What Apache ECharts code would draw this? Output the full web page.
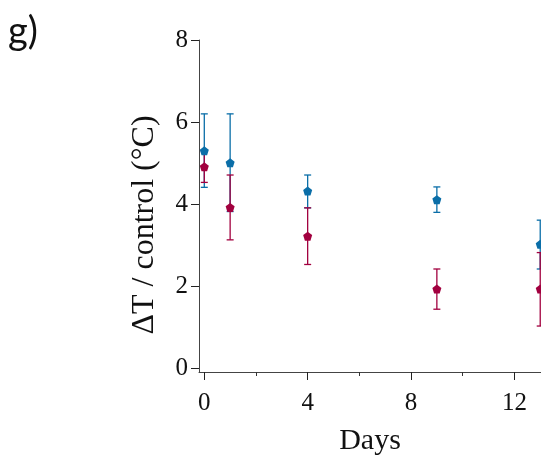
<!DOCTYPE html>
<html>
<head>
<meta charset="utf-8">
<script src="https://cdn.jsdelivr.net/npm/echarts@6/dist/echarts.min.js"></script>
<style>html,body{margin:0;padding:0;background:#fff}#c{width:541px;height:458px}</style>
</head>
<body>
<div id="c"></div>
<script>
var days = [0, 1, 4, 9, 13];
var blueMean = [5.30, 5.01, 4.32, 4.11, 3.02];
var blueLow  = [4.41, 3.82, 3.91, 3.80, 2.42];
var blueHigh = [6.20, 6.20, 4.71, 4.42, 3.61];
var redMean  = [4.91, 3.92, 3.22, 1.93, 1.93];
var redLow   = [4.53, 3.13, 2.53, 1.44, 1.03];
var redHigh  = [5.29, 4.71, 3.91, 2.42, 2.82];
var xMajorTicks = [0, 4, 8, 12];
var xMinorTicks = [2, 6, 10];
var yTicks = [0, 2, 4, 6, 8];

var BLUE = '#0a6ea8';
var RED = '#a2003f';
var SERIF = '"Liberation Serif", "DejaVu Serif", serif';
var PENT = 'path://M0,-1 L0.951,-0.309 L0.588,0.809 L-0.588,0.809 L-0.951,-0.309 Z';

function pts(xs, ys) { return xs.map(function (x, i) { return [x, ys[i]]; }); }
function errData(xs, lo, hi) { return xs.map(function (x, i) { return [x, lo[i], hi[i]]; }); }
function errSeries(data, color) {
  return {
    type: 'custom',
    data: data,
    clip: false,
    z: 2,
    renderItem: function (params, api) {
      var x = api.value(0);
      var lo = api.coord([x, api.value(1)]);
      var hi = api.coord([x, api.value(2)]);
      var w = 3.5;
      var st = { stroke: color, lineWidth: 1.3 };
      return {
        type: 'group',
        children: [
          { type: 'line', shape: { x1: lo[0], y1: lo[1], x2: hi[0], y2: hi[1] }, style: st },
          { type: 'line', shape: { x1: lo[0] - w, y1: lo[1], x2: lo[0] + w, y2: lo[1] }, style: st },
          { type: 'line', shape: { x1: hi[0] - w, y1: hi[1], x2: hi[0] + w, y2: hi[1] }, style: st }
        ]
      };
    },
    encode: { x: 0, y: [1, 2] }
  };
}

var chart = echarts.init(document.getElementById('c'), null, { renderer: 'canvas' });
chart.setOption({
  animation: false,
  backgroundColor: '#fff',
  grid: { left: 199, right: 0, top: 40, bottom: 86, containLabel: false, outerBoundsMode: 'none' },
  xAxis: [{
    type: 'value', min: -0.205, max: 13.03, position: 'bottom',
    axisLine: { onZero: false, lineStyle: { color: '#444', width: 1 } },
    axisTick: { show: true, length: 8, customValues: xMajorTicks, lineStyle: { color: '#222', width: 1 } },
    axisLabel: { customValues: xMajorTicks, margin: 19, fontFamily: SERIF, fontSize: 25, color: '#111' },
    splitLine: { show: false },
    name: 'Days', nameLocation: 'middle', nameGap: 54,
    nameTextStyle: { fontFamily: SERIF, fontSize: 30, color: '#111' }
  }, {
    type: 'value', min: -0.205, max: 13.03, position: 'bottom',
    axisLine: { show: false, onZero: false },
    axisTick: { show: true, length: 4, customValues: xMinorTicks, lineStyle: { color: '#333', width: 1 } },
    axisLabel: { show: false },
    splitLine: { show: false }
  }],
  yAxis: {
    type: 'value', min: -0.09, max: 8,
    axisLine: { show: true, onZero: false, lineStyle: { color: '#444', width: 1 } },
    axisTick: { show: true, length: 8, customValues: yTicks, lineStyle: { color: '#222', width: 1 } },
    axisLabel: { customValues: yTicks, margin: 11, fontFamily: SERIF, fontSize: 25, color: '#111' },
    splitLine: { show: false }
  },
  graphic: [
    { type: 'text', x: 8, y: 32, style: { text: 'g)', font: '38px Lato, "Open Sans", sans-serif', fill: '#111', textVerticalAlign: 'middle' } },
    { type: 'text', x: 145, y: 225, rotation: Math.PI / 2,
      style: { text: 'ΔT / control (°C)', font: '32px ' + SERIF, fill: '#111', textAlign: 'center', textVerticalAlign: 'middle' } }
  ],
  series: [
    errSeries(errData(days, blueLow, blueHigh), BLUE),
    errSeries(errData(days, redLow, redHigh), RED),
    { type: 'scatter', data: pts(days, blueMean), symbol: PENT, symbolSize: 9, clip: false, z: 3,
      itemStyle: { color: BLUE, opacity: 1 } },
    { type: 'scatter', data: pts(days, redMean), symbol: PENT, symbolSize: 9, clip: false, z: 4,
      itemStyle: { color: RED, opacity: 1 } }
  ]
});
</script>
</body>
</html>
